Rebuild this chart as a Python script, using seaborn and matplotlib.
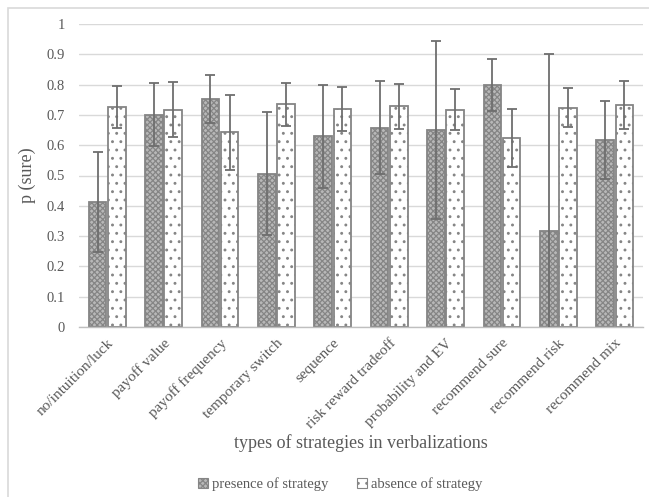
import numpy as np
import pandas as pd
import matplotlib
matplotlib.use("Agg")
import matplotlib.pyplot as plt
from matplotlib.patches import Patch, Rectangle
import seaborn as sns

# Strategy categories and mean p(sure) with confidence bounds
categories = ["no/intuition/luck", "payoff value", "payoff frequency", "temporary switch",
              "sequence", "risk reward tradeoff", "probability and EV", "recommend sure",
              "recommend risk", "recommend mix"]
presence = [0.413, 0.700, 0.752, 0.504, 0.629, 0.658, 0.650, 0.800, 0.316, 0.616]
presence_lo = [0.247, 0.597, 0.674, 0.305, 0.460, 0.504, 0.356, 0.712, -0.268, 0.487]
presence_hi = [0.578, 0.804, 0.831, 0.708, 0.800, 0.812, 0.943, 0.886, 0.900, 0.746]
absence = [0.725, 0.717, 0.643, 0.735, 0.721, 0.728, 0.717, 0.625, 0.724, 0.732]
absence_lo = [0.656, 0.627, 0.517, 0.665, 0.648, 0.655, 0.649, 0.528, 0.659, 0.655]
absence_hi = [0.794, 0.809, 0.767, 0.805, 0.793, 0.801, 0.785, 0.721, 0.789, 0.811]
series = ["presence of strategy", "absence of strategy"]
yticks = [0, 0.1, 0.2, 0.3, 0.4, 0.5, 0.6, 0.7, 0.8, 0.9, 1]

df = pd.DataFrame({
    "category": categories * 2,
    "p": presence + absence,
    "series": [series[0]] * len(categories) + [series[1]] * len(categories),
})

sns.set_style("white")
plt.rcParams["font.family"] = ["Liberation Serif", "DejaVu Serif"]
plt.rcParams["hatch.linewidth"] = 0.9

txt = "#595959"
edge = "#858585"

fig = plt.figure(figsize=(6.49, 4.97), dpi=100)
ax = fig.add_axes([79 / 649, 1 - 327 / 497, (643 - 79) / 649, (327 - 24) / 497])

faces = ["#b8b8b8", "white"]
sns.barplot(data=df, x="category", y="p", hue="series", hue_order=series,
            order=categories, palette=faces, width=0.68, gap=0.08,
            errorbar=None, legend=False, ax=ax, zorder=2)

hatches = ["xxxxxx", ".."]
los = [presence_lo, absence_lo]
his = [presence_hi, absence_hi]
vals = [presence, absence]
bar_containers = list(ax.containers)
for i, cont in enumerate(bar_containers):
    xs = []
    for bar in cont.patches:
        bar.set_facecolor(faces[i])
        bar.set_edgecolor(edge)
        bar.set_hatch(hatches[i])
        bar.set_linewidth(1.3)
        xs.append(bar.get_x() + bar.get_width() / 2)
    v = np.array(vals[i])
    yerr = np.vstack([v - np.array(los[i]), np.array(his[i]) - v])
    ax.errorbar(xs, v, yerr=yerr, fmt="none", ecolor="#6e6e6e", elinewidth=1.3,
                capsize=3.5, capthick=1.3, zorder=4)

ax.set_ylim(0, 1)
ax.set_xlim(-0.5, len(categories) - 0.5)
ax.set_yticks(yticks)
ax.set_yticklabels([f"{t:g}" for t in yticks], color=txt, fontsize=10.5)
ax.yaxis.grid(True, color="#d9d9d9", linewidth=1.0, zorder=0)
ax.set_axisbelow(True)
for s in ["left", "right", "top"]:
    ax.spines[s].set_visible(False)
ax.spines["bottom"].set_color("#bfbfbf")
ax.spines["bottom"].set_linewidth(1.0)
ax.tick_params(axis="y", length=0, pad=10)
ax.set_xticks(range(len(categories)))
ax.set_xticklabels(categories, rotation=45, ha="right", rotation_mode="anchor",
                   color=txt, fontsize=11)
ax.tick_params(axis="x", length=0, pad=7)

ax.set_ylabel("p (sure)", color=txt, fontsize=13, labelpad=8)
ax.set_xlabel("")
fig.text(0.5 * (79 + 643) / 649, 1 - 443 / 497, "types of strategies in verbalizations",
         ha="center", va="center", color=txt, fontsize=13)

handles = [Patch(facecolor=faces[i], edgecolor=edge, hatch=hatches[i], linewidth=0.8)
           for i in range(2)]
fig.legend(handles, series, loc="center", bbox_to_anchor=(340 / 649, 1 - 484 / 497),
           ncol=2, frameon=False, fontsize=10.5, handlelength=0.7, handleheight=0.7,
           handletextpad=0.25, columnspacing=2.0, labelcolor=txt)

# light outer border of the chart area
fig.patches.append(Rectangle((8 / 649, -0.05), 1.1, 1 - 8 / 497 + 0.05,
                             transform=fig.transFigure, fill=False,
                             edgecolor="#d9d9d9", linewidth=1.2))

fig.savefig("out.png", dpi=100)
